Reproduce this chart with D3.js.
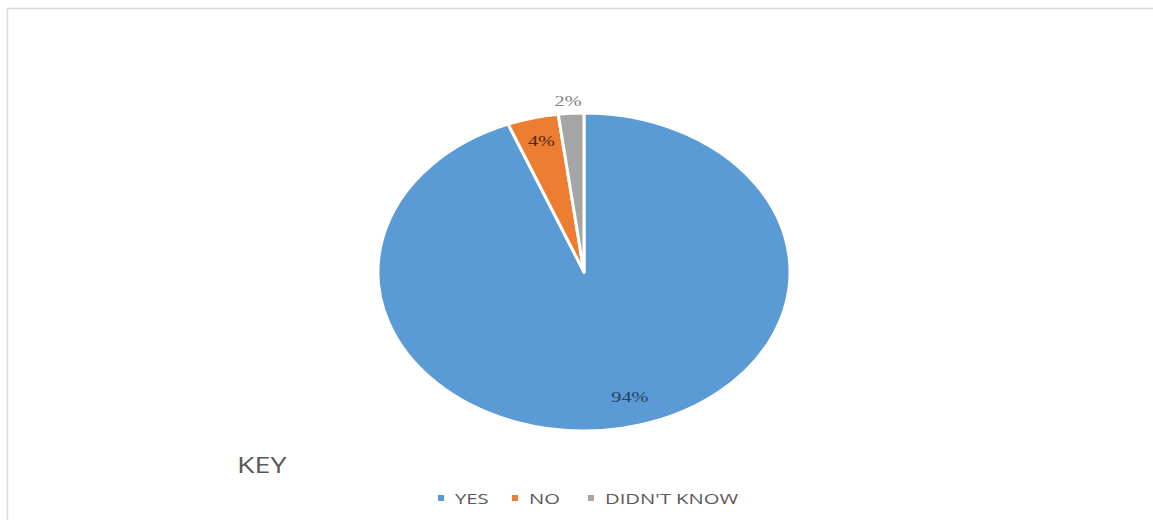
<!DOCTYPE html>
<html>
<head>
<meta charset="utf-8">
<script src="https://d3js.org/d3.v7.min.js"></script>
<style>
  body { margin: 0; background: #fff; }
  svg { display: block; }
</style>
</head>
<body>
<svg id="chart" width="1153" height="520"></svg>
<script>
// chart data
const categories = ["YES", "NO", "DIDN'T KNOW"];
const values = [94, 4, 2];
const labels = ["94%", "4%", "2%"];
const colors = ["#5B9BD5", "#ED7D31", "#A5A5A5"];
const labelColors = ["#253f60", "#4a2810", "#808080"];

const width = 1153;
const height = 520;
const cx = 584, cy = 272;
const rx = 206, ry = 159;
const stretch = 1.35; // the whole picture looks stretched sideways

const svg = d3.select("#chart");

// light frame of the chart area
svg.append("rect")
  .attr("x", 7.5)
  .attr("y", 8.5)
  .attr("width", width + 10)
  .attr("height", height + 10)
  .attr("fill", "none")
  .attr("stroke", "#d9d9d9")
  .attr("stroke-width", 1.5);

const pie = d3.pie().sort(null).value((d) => d);
const arcs = pie(values);
const arc = d3.arc().innerRadius(0).outerRadius(ry);

// pie drawn as a circle then stretched into an ellipse
const g = svg.append("g")
  .attr("transform", `translate(${cx},${cy}) scale(${rx / ry},1)`);

g.selectAll("path")
  .data(arcs)
  .enter()
  .append("path")
  .attr("d", arc)
  .attr("fill", (d, i) => colors[i])
  .attr("stroke", "#fff")
  .attr("stroke-width", 3)
  .attr("stroke-linejoin", "round")
  .attr("vector-effect", "non-scaling-stroke");

// data labels (radius fraction in circle space + small nudge)
const labelR = [0.8, 0.85, 1.08];
const labelDx = [15, 1, -2];

const labelPos = (d, i) => {
  const a = (d.startAngle + d.endAngle) / 2;
  const x = cx + Math.sin(a) * ry * labelR[i] * (rx / ry) + labelDx[i];
  const y = cy - Math.cos(a) * ry * labelR[i] + 5;
  return [x, y];
};

svg.selectAll("text.dlabel")
  .data(arcs)
  .enter()
  .append("text")
  .attr("class", "dlabel")
  .attr("transform", (d, i) => {
    const [x, y] = labelPos(d, i);
    return `translate(${x},${y}) scale(${stretch},1)`;
  })
  .attr("text-anchor", "middle")
  .attr("font-family", "'Liberation Serif', 'DejaVu Serif', serif")
  .attr("font-size", 15)
  .attr("fill", (d, i) => labelColors[i])
  .text((d, i) => labels[i]);

// KEY title
svg.append("text")
  .attr("transform", `translate(237,473) scale(1.3,1)`)
  .attr("font-family", "'Open Sans', sans-serif")
  .attr("font-size", 22)
  .attr("fill", "#595959")
  .text("KEY");

// legend
const legendX = [438, 512, 588];
const legend = svg.selectAll("g.legend")
  .data(categories)
  .enter()
  .append("g")
  .attr("class", "legend")
  .attr("transform", (d, i) => `translate(${legendX[i]},504)`);

legend.append("rect")
  .attr("x", 0)
  .attr("y", -9)
  .attr("width", 6)
  .attr("height", 6)
  .attr("fill", (d, i) => colors[i]);

legend.append("text")
  .attr("transform", `translate(17,0) scale(${stretch},1)`)
  .attr("font-family", "'Open Sans', sans-serif")
  .attr("font-size", 15)
  .attr("fill", "#595959")
  .text((d) => d);
</script>
</body>
</html>
